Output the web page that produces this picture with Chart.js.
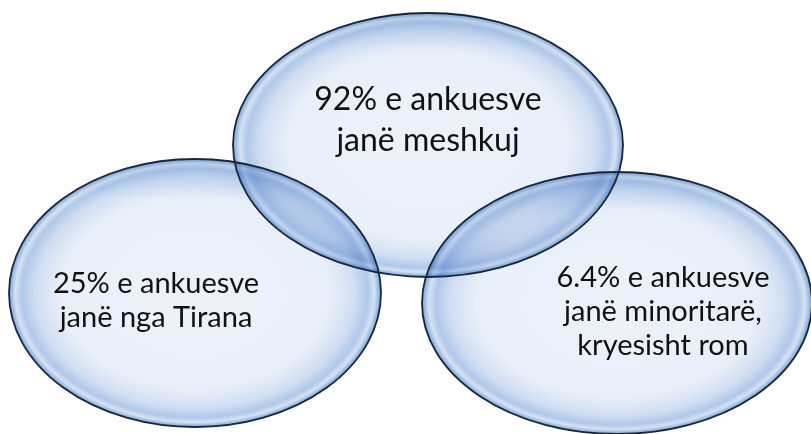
<!DOCTYPE html>
<html>
<head>
<meta charset="utf-8">
<script src="https://cdn.jsdelivr.net/npm/chart.js@4.4.0/dist/chart.umd.min.js"></script>
<style>
  body { margin: 0; background: #fff; }
  #wrap { width: 811px; height: 434px; position: relative; }
</style>
</head>
<body>
<div id="wrap"><canvas id="vennChart"></canvas></div>
<script>
// Venn circles (ellipses) - centre and radii in chart units
const circleNames = ['meshkuj', 'Tirana', 'minoritare'];
const centerX = [428, 195, 617];
const centerY = [145, 293, 303];
const radiusX = [195, 186, 195];
const radiusY = [132, 134, 131];
const labelLines = [
  ['92% e ankuesve', 'janë meshkuj'],
  ['25% e ankuesve', 'janë nga Tirana'],
  ['6.4% e ankuesve', 'janë minoritarë,', 'kryesisht rom']
];

// where the text sits relative to each ellipse centre, and its font size
const labelStyle = [
  { dx: 0, dy: -25, size: 32, lineH: 41 },
  { dx: -39, dy: 8, size: 29, lineH: 34 },
  { dx: 46, dy: 9, size: 29, lineH: 34 }
];

const ctx = document.getElementById('vennChart');

const vennPlugin = {
  id: 'venn',
  afterDatasetsDraw(chart) {
    const c = chart.ctx;
    const xs = chart.scales.x, ys = chart.scales.y;
    const meta = chart.getDatasetMeta(0);
    const shapes = meta.data.map((pt, i) => ({
      x: pt.x,
      y: pt.y,
      rx: Math.abs(xs.getPixelForValue(centerX[i] + radiusX[i]) - pt.x),
      ry: Math.abs(ys.getPixelForValue(centerY[i] + radiusY[i]) - pt.y)
    }));

    // fills
    c.save();
    c.globalCompositeOperation = 'multiply';
    shapes.forEach(s => {
      c.save();
      c.translate(s.x, s.y);
      c.scale(s.rx, s.ry);
      const g = c.createRadialGradient(0, 0, 0, 0, 0, 1);
      g.addColorStop(0, '#edf2fa');
      g.addColorStop(0.72, '#e9eff9');
      g.addColorStop(0.86, '#d0def2');
      g.addColorStop(0.93, '#b0c8e9');
      g.addColorStop(0.965, '#d4e2f4');
      g.addColorStop(0.99, '#94b5df');
      g.addColorStop(1, '#80a5d6');
      c.fillStyle = g;
      c.beginPath();
      c.arc(0, 0, 1, 0, Math.PI * 2);
      c.fill();
      c.restore();
    });
    c.restore();

    // glossy top shading
    shapes.forEach(s => {
      c.save();
      c.beginPath();
      c.ellipse(s.x, s.y, s.rx, s.ry, 0, 0, Math.PI * 2);
      c.clip();
      const lg = c.createLinearGradient(0, s.y - s.ry, 0, s.y);
      lg.addColorStop(0, 'rgba(110,150,205,0.3)');
      lg.addColorStop(0.3, 'rgba(110,150,205,0.0)');
      c.fillStyle = lg;
      c.fillRect(s.x - s.rx, s.y - s.ry, s.rx * 2, s.ry);
      c.restore();
    });

    // outlines
    c.save();
    c.strokeStyle = '#1b2638';
    c.lineWidth = 1.8;
    shapes.forEach(s => {
      c.beginPath();
      c.ellipse(s.x, s.y, s.rx, s.ry, 0, 0, Math.PI * 2);
      c.stroke();
    });
    c.restore();

    // labels
    c.save();
    c.fillStyle = '#111';
    c.textAlign = 'center';
    c.textBaseline = 'middle';
    shapes.forEach((s, i) => {
      const st = labelStyle[i];
      const lines = labelLines[i];
      c.font = st.size + 'px Lato, "Open Sans", sans-serif';
      const top = s.y + st.dy - (lines.length - 1) * st.lineH / 2;
      lines.forEach((ln, k) => {
        c.fillText(ln, s.x + st.dx, top + k * st.lineH);
      });
    });
    c.restore();
  }
};

new Chart(ctx, {
  type: 'scatter',
  data: {
    datasets: [{
      label: 'Venn',
      data: centerX.map((x, i) => ({ x: x, y: centerY[i], name: circleNames[i] })),
      pointRadius: 0,
      pointHoverRadius: 0
    }]
  },
  options: {
    responsive: true,
    maintainAspectRatio: false,
    animation: false,
    layout: { padding: 0 },
    plugins: {
      legend: { display: false },
      tooltip: { enabled: false }
    },
    scales: {
      x: { type: 'linear', min: 0, max: 811, display: false },
      y: { type: 'linear', min: 0, max: 434, reverse: true, display: false }
    }
  },
  plugins: [vennPlugin]
});
</script>
</body>
</html>
